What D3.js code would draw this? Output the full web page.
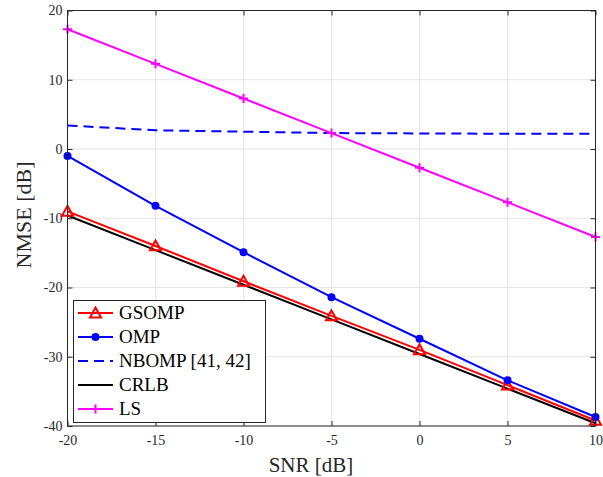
<!DOCTYPE html>
<html>
<head>
<meta charset="utf-8">
<script src="https://cdn.jsdelivr.net/npm/d3@7"></script>
<style>
  body { margin: 0; background: #fff; }
  svg { display: block; }
</style>
</head>
<body>
<svg id="chart" width="603" height="477"></svg>
<script>
// SNR points (dB)
const snr = [-20, -15, -10, -5, 0, 5, 10];
// NMSE (dB) per estimator
const gsomp = [-9.0, -14.0, -19.1, -24.1, -29.0, -34.1, -39.2];
const omp   = [-1.0, -8.2, -14.9, -21.4, -27.4, -33.4, -38.7];
const nbomp = [3.4, 2.7, 2.5, 2.3, 2.25, 2.2, 2.2];
const crlb  = [-9.6, -14.6, -19.6, -24.6, -29.6, -34.6, -39.6];
const ls    = [17.3, 12.3, 7.3, 2.3, -2.7, -7.7, -12.7];

const xTicks = [-20, -15, -10, -5, 0, 5, 10];
const yTicks = [-40, -30, -20, -10, 0, 10, 20];

const series = [
  { name: "GSOMP", values: gsomp, color: "#ff0000", marker: "triangle", dash: null },
  { name: "OMP", values: omp, color: "#0000ff", marker: "circle", dash: null },
  { name: "NBOMP [41, 42]", values: nbomp, color: "#0000ff", marker: null, dash: "10,6" },
  { name: "CRLB", values: crlb, color: "#000000", marker: null, dash: null },
  { name: "LS", values: ls, color: "#ff00ff", marker: "plus", dash: null }
];

const FONT = "'Liberation Serif', 'Times New Roman', Times, 'DejaVu Serif', serif";

const svg = d3.select("#chart");
const m = { left: 67.5, right: 595.5, top: 10.5, bottom: 426 };
const x = d3.scaleLinear().domain([-20, 10]).range([m.left, m.right]);
const y = d3.scaleLinear().domain([-40, 20]).range([m.bottom, m.top]);

// grid
const grid = svg.append("g").attr("stroke", "#e5e5e5").attr("stroke-width", 1);
xTicks.forEach(t => grid.append("line").attr("x1", x(t)).attr("x2", x(t)).attr("y1", m.top).attr("y2", m.bottom));
yTicks.forEach(t => grid.append("line").attr("y1", y(t)).attr("y2", y(t)).attr("x1", m.left).attr("x2", m.right));

// axes with inward ticks
const tickLen = 5;
const xAxis = d3.axisBottom(x).tickValues(xTicks).tickSize(-tickLen).tickPadding(9).tickFormat(d3.format("d"));
const yAxis = d3.axisLeft(y).tickValues(yTicks).tickSize(-tickLen).tickPadding(5).tickFormat(d3.format("d"));

const gx = svg.append("g").attr("transform", `translate(0,${m.bottom})`).call(xAxis);
const gy = svg.append("g").attr("transform", `translate(${m.left},0)`).call(yAxis);
const gxt = svg.append("g").attr("transform", `translate(0,${m.top})`).call(d3.axisTop(x).tickValues(xTicks).tickSize(-tickLen).tickFormat(""));
const gyr = svg.append("g").attr("transform", `translate(${m.right},0)`).call(d3.axisRight(y).tickValues(yTicks).tickSize(-tickLen).tickFormat(""));
[gx, gy, gxt, gyr].forEach(g => {
  g.attr("font-family", null).attr("font-size", null);
  g.select(".domain").remove();
  g.selectAll(".tick line").attr("stroke", "#262626");
  g.selectAll(".tick text")
    .style("font-family", FONT).style("font-size", "14px").attr("fill", "#262626")
    .text(function(d) { return d3.select(this).text().replace("−", "-"); });
});

const line = d3.line().x((d, i) => x(snr[i])).y(d => y(d));
const plot = svg.append("g");

function drawMarker(g, type, cx, cy, color) {
  if (type === "triangle") {
    const s = 5.5;
    g.append("path")
      .attr("d", `M${cx},${cy - s}L${cx + s},${cy + s * 0.8}L${cx - s},${cy + s * 0.8}Z`)
      .attr("fill", "none").attr("stroke", color).attr("stroke-width", 2);
  } else if (type === "circle") {
    g.append("circle").attr("cx", cx).attr("cy", cy).attr("r", 4).attr("fill", color);
  } else if (type === "plus") {
    const s = 4.5;
    g.append("path").attr("d", `M${cx - s},${cy}H${cx + s}M${cx},${cy - s}V${cy + s}`)
      .attr("stroke", color).attr("stroke-width", 2);
  }
}

// draw order: CRLB below others
const order = [3, 2, 4, 0, 1];
order.forEach(k => {
  const s = series[k];
  plot.append("path").datum(s.values).attr("d", line)
    .attr("fill", "none").attr("stroke", s.color).attr("stroke-width", 2)
    .attr("stroke-dasharray", s.dash);
  if (s.marker) {
    s.values.forEach((v, i) => drawMarker(plot, s.marker, x(snr[i]), y(v), s.color));
  }
});

// frame
svg.append("rect").attr("x", m.left).attr("y", m.top).attr("width", m.right - m.left).attr("height", m.bottom - m.top)
  .attr("fill", "none").attr("stroke", "#262626").attr("stroke-width", 1);

// axis labels
svg.append("text").attr("x", 311).attr("y", 472).attr("text-anchor", "middle")
  .style("font-family", FONT).style("font-size", "21px").attr("fill", "#262626").text("SNR [dB]");
svg.append("text").attr("transform", `translate(31,215) rotate(-90)`)
  .attr("text-anchor", "middle").style("font-family", FONT).style("font-size", "22px").attr("fill", "#262626").text("NMSE [dB]");

// legend
const lg = svg.append("g");
lg.append("rect").attr("x", 73.5).attr("y", 300.5).attr("width", 192).attr("height", 122)
  .attr("fill", "#fff").attr("stroke", "#262626").attr("stroke-width", 1);
series.forEach((s, i) => {
  const ly = 313 + i * 24;
  lg.append("line").attr("x1", 78).attr("x2", 113).attr("y1", ly).attr("y2", ly)
    .attr("stroke", s.color).attr("stroke-width", 2).attr("stroke-dasharray", s.dash);
  if (s.marker) drawMarker(lg, s.marker, 95.5, ly, s.color);
  lg.append("text").attr("x", 119).attr("y", ly + 6)
    .style("font-family", FONT).style("font-size", "19px").attr("fill", "#000").text(s.name);
});
</script>
</body>
</html>
